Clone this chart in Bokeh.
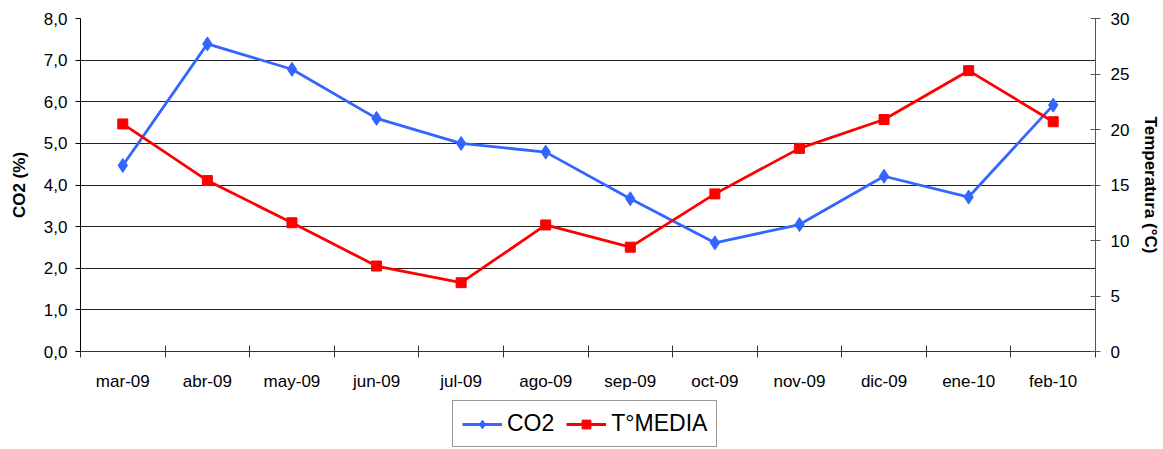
from bokeh.plotting import figure
from bokeh.layouts import column
from bokeh.models import (Range1d, LinearAxis, FixedTicker, Legend, LegendItem)
from bokeh.embed import file_html
from bokeh.resources import INLINE

# Monthly CO2 concentration and mean temperature
months = ["mar-09", "abr-09", "may-09", "jun-09", "jul-09", "ago-09",
          "sep-09", "oct-09", "nov-09", "dic-09", "ene-10", "feb-10"]
co2 = [4.47, 7.39, 6.78, 5.60, 5.00, 4.79, 3.67, 2.61, 3.05, 4.21, 3.71, 5.92]
t_media = [20.5, 15.4, 11.6, 7.7, 6.2, 11.4, 9.4, 14.2, 18.3, 20.9, 25.3, 20.7]

co2_ticks = [0, 1, 2, 3, 4, 5, 6, 7, 8]
co2_tick_labels = ["0,0", "1,0", "2,0", "3,0", "4,0", "5,0", "6,0", "7,0", "8,0"]
temp_ticks = [0, 5, 10, 15, 20, 25, 30]

FONT = "Liberation Sans"
BLUE = "#3366FF"
RED = "#FF0000"
LINE_W = 2.8

# months sit at the centre of each slot; slot borders carry the ticks
x_pos = [i + 0.5 for i in range(len(months))]
x_bounds = list(range(len(months) + 1))

p = figure(width=1163, height=400, output_backend="svg", toolbar_location=None,
           x_range=Range1d(0, len(months)), y_range=Range1d(0, 8),
           min_border_left=80, min_border_right=68, min_border_top=18,
           min_border_bottom=49, outline_line_color=None)
p.extra_y_ranges = {"temp": Range1d(0, 30)}

# horizontal grid only
p.xgrid.grid_line_color = None
p.ygrid.ticker = FixedTicker(ticks=co2_ticks)
p.ygrid.grid_line_color = "#222222"
p.ygrid.grid_line_width = 1

# bottom axis: labels at slot centres, ticks at slot borders
xa = p.xaxis[0]
xa.ticker = FixedTicker(ticks=x_pos, minor_ticks=x_bounds)
xa.major_label_overrides = {x: m for x, m in zip(x_pos, months)}
xa.major_tick_in = 0
xa.major_tick_out = 0
xa.minor_tick_in = 6
xa.minor_tick_out = 6
xa.minor_tick_line_color = "#333333"
xa.axis_line_color = "#333333"
xa.major_label_standoff = 14
xa.major_label_text_font = FONT
xa.major_label_text_font_size = "17px"
xa.major_label_text_color = "black"

# left axis: CO2
ya = p.yaxis[0]
ya.ticker = FixedTicker(ticks=co2_ticks)
ya.major_label_overrides = {t: s for t, s in zip(co2_ticks, co2_tick_labels)}
ya.major_tick_in = 0
ya.major_tick_out = 5
ya.minor_tick_line_color = None
ya.axis_line_color = "black"
ya.major_tick_line_color = "black"
ya.major_label_standoff = 8
ya.major_label_text_font = FONT
ya.major_label_text_font_size = "17px"
ya.major_label_text_color = "black"
ya.axis_label = "CO2 (%)"
ya.axis_label_text_font = FONT
ya.axis_label_text_font_size = "17px"
ya.axis_label_text_font_style = "bold"
ya.axis_label_text_color = "black"
ya.axis_label_standoff = 12

# right axis: temperature
ra = LinearAxis(y_range_name="temp", ticker=FixedTicker(ticks=temp_ticks))
ra.major_tick_in = 5
ra.major_tick_out = 5
ra.minor_tick_line_color = None
ra.axis_line_color = "#555555"
ra.major_tick_line_color = "#555555"
ra.major_label_standoff = 10
ra.major_label_text_font = FONT
ra.major_label_text_font_size = "17px"
ra.major_label_text_color = "black"
ra.axis_label = "Temperatura (°C)"
ra.axis_label_text_font = FONT
ra.axis_label_text_font_size = "17px"
ra.axis_label_text_font_style = "bold"
ra.axis_label_text_color = "black"
ra.axis_label_standoff = 9
p.add_layout(ra, "right")


def draw_series(fig, visible=True):
    """Both series: blue CO2 line with diamonds, red temperature line with squares."""
    a = fig.line(x_pos, co2, line_color=BLUE, line_width=LINE_W, visible=visible)
    b = fig.scatter(x_pos, co2, marker="diamond", size=14, fill_color=BLUE,
                    line_color=BLUE, visible=visible)
    c = fig.line(x_pos, t_media, line_color=RED, line_width=LINE_W,
                 y_range_name="temp", visible=visible)
    d = fig.scatter(x_pos, t_media, marker="square", size=10, fill_color=RED,
                    line_color=RED, y_range_name="temp", visible=visible)
    return a, b, c, d


draw_series(p)

# legend strip under the chart
leg = figure(width=1163, height=49, output_backend="svg", toolbar_location=None,
             x_range=Range1d(0, len(months)), y_range=Range1d(0, 8),
             min_border=0, outline_line_color=None)
leg.extra_y_ranges = {"temp": Range1d(0, 30)}
leg.axis.visible = False
leg.grid.visible = False
k_co2, k_co2m, k_t, k_tm = draw_series(leg, visible=False)

legend = Legend(items=[LegendItem(label="CO2", renderers=[k_co2, k_co2m]),
                       LegendItem(label="T°MEDIA", renderers=[k_t, k_tm])],
                orientation="horizontal", location=(372, 2))
legend.label_text_font = FONT
legend.label_text_font_size = "23px"
legend.label_text_color = "black"
legend.glyph_width = 40
legend.glyph_height = 22
legend.label_standoff = 5
legend.spacing = 12
legend.padding = 9
legend.margin = 0
legend.border_line_color = "#333333"
legend.border_line_width = 1
legend.background_fill_alpha = 1
legend.inactive_fill_alpha = 0
leg.add_layout(legend, "center")

page = column(p, leg, spacing=0)

open("out.html", "w").write(file_html(page, INLINE))
